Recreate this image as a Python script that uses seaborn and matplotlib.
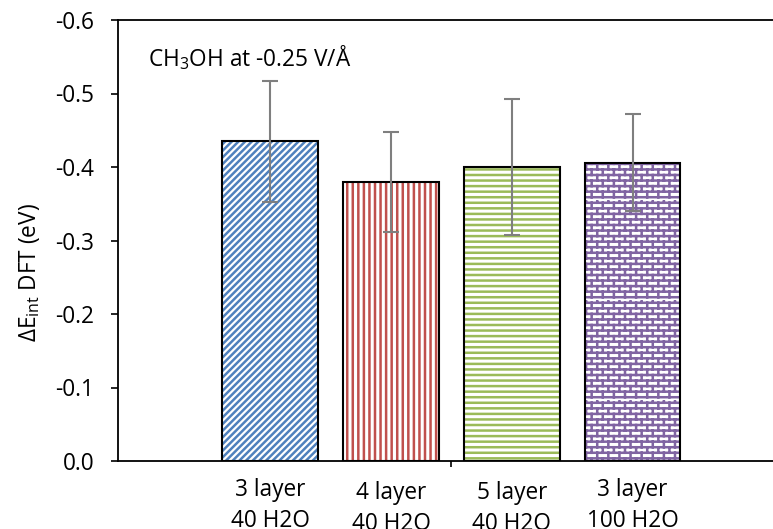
import warnings
import numpy as np
import matplotlib
matplotlib.use("Agg")
import matplotlib.pyplot as plt
import matplotlib.transforms as mtransforms
from matplotlib.patches import Rectangle
from matplotlib.ticker import FormatStrFormatter
from matplotlib import hatch as mhatch
from matplotlib.path import Path
import seaborn as sns

warnings.filterwarnings("ignore")

# ---------------- data ----------------
categories = ["3 layer\n40 H2O", "4 layer\n40 H2O", "5 layer\n40 H2O", "3 layer\n100 H2O"]
values = [-0.435, -0.380, -0.400, -0.406]
errors = [0.082, 0.068, 0.092, 0.066]
colors = ["#4F81BD", "#C0504D", "#9BBB59", "#8064A2"]
hatches = ["/////", "|||", "---", "b"]
yticks = [0.0, -0.1, -0.2, -0.3, -0.4, -0.5, -0.6]
title = "CH$_3$OH at -0.25 V/Å"
ylabel = "ΔE$_{\\mathrm{int}}$ DFT (eV)"


# custom brick hatch ('b')
class BrickHatch(mhatch.HatchPatternBase):
    def __init__(self, hatch, density):
        self.on = hatch.count("b") > 0
        self.rows = 18
        self.cols = 9
        self.num_vertices = (self.rows + self.rows * self.cols) * 2 if self.on else 0

    def set_vertices_and_codes(self, vertices, codes):
        i = 0
        for r in range(self.rows):
            y = (r + 0.5) / self.rows
            vertices[i] = [0.0, y]
            vertices[i + 1] = [1.0, y]
            codes[i] = Path.MOVETO
            codes[i + 1] = Path.LINETO
            i += 2
        for r in range(self.rows):
            y0 = (r + 0.5) / self.rows
            y1 = (r + 1.5) / self.rows
            off = 0.5 / self.cols if r % 2 else 0.0
            for c in range(self.cols):
                x = (c + 0.25) / self.cols + off
                vertices[i] = [x, y0]
                vertices[i + 1] = [x, y1]
                codes[i] = Path.MOVETO
                codes[i + 1] = Path.LINETO
                i += 2


mhatch._hatch_types.append(BrickHatch)

sns.set_theme(style="white")
plt.rcParams["font.family"] = ["Open Sans", "DejaVu Sans"]
plt.rcParams["mathtext.fontset"] = "custom"
plt.rcParams["mathtext.rm"] = "Open Sans"
plt.rcParams["mathtext.it"] = "Open Sans:italic"
plt.rcParams["mathtext.bf"] = "Open Sans:bold"
plt.rcParams["axes.unicode_minus"] = False
plt.rcParams["hatch.linewidth"] = 1.8

FS = 16.3

W, H = 773, 529
fig = plt.figure(figsize=(W / 100, H / 100), dpi=100)
ax = fig.add_axes([118 / W, 1 - 461 / H, 1 - 118 / W, (461 - 20) / H])

sns.barplot(x=categories, y=values, hue=categories, palette=colors, legend=False,
            width=0.79, errorbar=None, ax=ax, zorder=2)

centers = []
for p, c, h in zip(ax.patches, colors, hatches):
    p.set_facecolor("white")
    p.set_edgecolor(c)
    p.set_hatch(h)
    p.set_linewidth(0)
    outline = Rectangle(p.get_xy(), p.get_width(), p.get_height(), fill=False,
                        edgecolor="black", linewidth=1.5, zorder=3)
    ax.add_patch(outline)
    centers.append(p.get_x() + p.get_width() / 2)

ax.errorbar(centers, values, yerr=errors, fmt="none", ecolor="#7F7F7F",
            elinewidth=1.5, capsize=5.5, capthick=1.5, zorder=4)

ax.set_xlim(-1.26, 4.162)
ax.set_ylim(0, -0.6)
ax.set_yticks(yticks)
ax.yaxis.set_major_formatter(FormatStrFormatter("%.1f"))
ax.tick_params(axis="y", length=5, width=1.2, color="black", pad=12,
               labelsize=FS, labelcolor="black", left=True)
ax.tick_params(axis="x", which="major", length=0, pad=12.5, labelsize=FS, labelcolor="black")
ax.set_xticks([1.5], minor=True)
ax.tick_params(axis="x", which="minor", length=4, width=1.2, color="black", bottom=True)
for lab in ax.get_xticklabels():
    lab.set_linespacing(1.38)
ax.set_xlabel("")
ax.set_ylabel("")

# labels 2 and 3 sit slightly lower
for i, lab in enumerate(ax.get_xticklabels()):
    if i in (1, 2):
        lab.set_transform(lab.get_transform() +
                          mtransforms.ScaledTranslation(0, -3 / 100, fig.dpi_scale_trans))

for side in ["left", "bottom", "top"]:
    ax.spines[side].set_visible(True)
    ax.spines[side].set_color("black")
    ax.spines[side].set_linewidth(1.3)
ax.spines["right"].set_visible(False)
ax.grid(False)

fig.text(148 / W, 1 - 66 / H, title, fontsize=FS, ha="left", va="baseline", color="black")
fig.text(29 / W, 1 - 273 / H, ylabel, fontsize=FS, rotation=90, ha="center",
         va="center", color="black")

fig.savefig("out.png", dpi=100, facecolor="white")
